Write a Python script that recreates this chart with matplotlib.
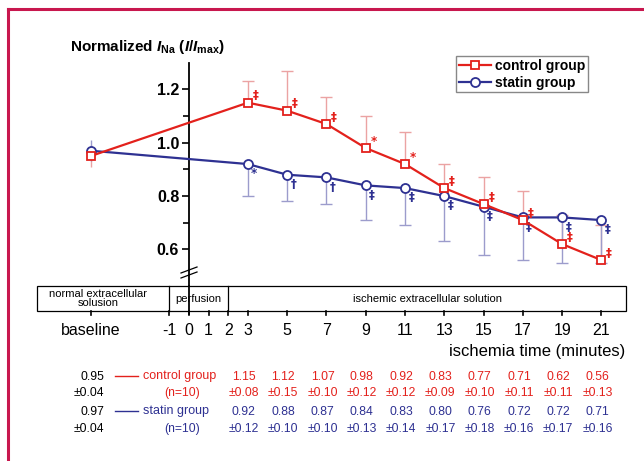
import matplotlib
matplotlib.use('Agg')
import matplotlib.pyplot as plt
from matplotlib import transforms
from matplotlib.lines import Line2D
from matplotlib.patches import Rectangle

plt.rcParams['font.family'] = ['Liberation Sans', 'DejaVu Sans']
plt.rcParams['mathtext.fontset'] = 'custom'
plt.rcParams['mathtext.rm'] = 'Liberation Sans:bold'
plt.rcParams['mathtext.it'] = 'Liberation Sans:italic:bold'
plt.rcParams['mathtext.bf'] = 'Liberation Sans:bold'

# ---------------- data ----------------
time_min = [-5, 3, 5, 7, 9, 11, 13, 15, 17, 19, 21]
control_mean = [0.95, 1.15, 1.12, 1.07, 0.98, 0.92, 0.83, 0.77, 0.71, 0.62, 0.56]
control_sd = [0.04, 0.08, 0.15, 0.10, 0.12, 0.12, 0.09, 0.10, 0.11, 0.11, 0.13]
statin_mean = [0.97, 0.92, 0.88, 0.87, 0.84, 0.83, 0.80, 0.76, 0.72, 0.72, 0.71]
statin_sd = [0.04, 0.12, 0.10, 0.10, 0.13, 0.14, 0.17, 0.18, 0.16, 0.17, 0.16]
control_sig = ['', '‡', '‡', '‡', '*', '*', '‡', '‡', '‡', '‡', '‡']
statin_sig = ['', '*', '†', '†', '‡', '‡', '‡', '‡', '‡', '‡', '‡']
xtick_pos = [-5, -1, 0, 1, 2, 3, 5, 7, 9, 11, 13, 15, 17, 19, 21]
xtick_labels = ['baseline', '-1', '0', '1', '2', '3', '5', '7', '9', '11',
                '13', '15', '17', '19', '21']
phase_names = ['normal extracellular\nsolusion', 'perfusion',
               'ischemic extracellular solution']
phase_edges = [-1, 2]
yticks_major = [0.6, 0.8, 1.0, 1.2]
yticks_minor = [0.7, 0.9, 1.1]
group_names = ['control group', 'statin group']
group_n = ['(n=10)', '(n=10)']

# ---------------- style ----------------
RED = '#e3211c'
BLUE = '#2e3192'
RED_LIGHT = '#eba3a3'
BLUE_LIGHT = '#9c9ccc'
BORDER = '#c8174e'

W, H = 644, 461
fig = plt.figure(figsize=(W / 100, H / 100), dpi=100)

def fx(px):
    return px / W

def fy(py):
    return 1 - py / H

XMIN, XMAX = -7.75, 22.25
YMIN, YMAX = 0.463, 1.2987
ax = fig.add_axes([fx(36.7), fy(286), fx(626) - fx(36.7), fy(63) - fy(286)])
ax.set_xlim(XMIN, XMAX)
ax.set_ylim(YMIN, YMAX)
for s in ['top', 'right', 'bottom']:
    ax.spines[s].set_visible(False)
ax.spines['left'].set_position(('data', 0))
ax.spines['left'].set_linewidth(1.3)
ax.set_xticks([])
ax.set_yticks(yticks_major)
ax.set_yticklabels([f'{v:.1f}' for v in yticks_major], fontsize=11.5, fontweight='bold')
ax.set_yticks(yticks_minor, minor=True)
ax.tick_params(axis='y', which='major', length=5, width=1.2, direction='out', pad=2)
ax.tick_params(axis='y', which='minor', length=4, width=1.2, direction='out')
ax.patch.set_alpha(0)

blend = transforms.blended_transform_factory(ax.transData, fig.transFigure)

def draw_err(xs, lo, hi, color):
    ax.vlines(xs, lo, hi, colors=color, lw=1.0, zorder=2)

# baseline error bars (both ways)
for mean, sd, col in [(control_mean[0], control_sd[0], RED_LIGHT),
                      (statin_mean[0], statin_sd[0], BLUE_LIGHT)]:
    draw_err([time_min[0]], [mean - sd], [mean + sd], col)

# ischemia error bars: control upward, statin downward
xs = time_min[1:]
c_top = [m + s for m, s in zip(control_mean[1:], control_sd[1:])]
s_bot = [m - s for m, s in zip(statin_mean[1:], statin_sd[1:])]
draw_err(xs, control_mean[1:], c_top, RED_LIGHT)
ax.plot(xs, c_top, ls='none', marker='_', ms=8, mew=1.0, color=RED_LIGHT, zorder=2)
draw_err(xs, s_bot, statin_mean[1:], BLUE_LIGHT)
ax.plot(xs, s_bot, ls='none', marker='_', ms=8, mew=1.0, color=BLUE_LIGHT, zorder=2)

# lines
ax.plot(time_min, control_mean, color=RED, lw=1.6, marker='s', ms=6,
        mfc='white', mec=RED, mew=1.3, zorder=4, clip_on=False)
ax.plot(time_min, statin_mean, color=BLUE, lw=1.6, marker='o', ms=6.5,
        mfc='white', mec=BLUE, mew=1.3, zorder=3, clip_on=False)

# significance marks
SIG_FONT = ['DejaVu Sans']
for x, m, t in zip(time_min, control_mean, control_sig):
    if t:
        ax.annotate(t, (x, m), xytext=(5.5, 5), textcoords='offset points',
                    ha='center', va='center', color=RED, fontsize=8.5,
                    family=SIG_FONT, fontweight='bold')
for x, m, t in zip(time_min, statin_mean, statin_sig):
    if t:
        ax.annotate(t, (x, m), xytext=(4.5, -7), textcoords='offset points',
                    ha='center', va='center', color=BLUE, fontsize=8.5,
                    family=SIG_FONT, fontweight='bold')

# y-axis continuation through the band
fig.add_artist(Line2D([0, 0], [fy(286), fy(314)], transform=blend,
                      color='black', lw=1.3))

# axis break marks
for dy in (-2.5, 2.5):
    fig.add_artist(Line2D([fx(181), fx(197)], [fy(275.5 + dy), fy(269.5 + dy)],
                          transform=fig.transFigure, color='black', lw=0.9))

# title
fig.text(fx(70), fy(47), r'Normalized $I_{\mathregular{Na}}$ ($I/I_{\mathregular{max}}$)',
         fontsize=11, fontweight='bold', ha='left', va='center')

# legend
handles = [Line2D([], [], color=RED, lw=1.6, marker='s', ms=6, mfc='white', mec=RED, mew=1.3),
           Line2D([], [], color=BLUE, lw=1.6, marker='o', ms=6.5, mfc='white', mec=BLUE, mew=1.3)]
leg = ax.legend(handles, group_names, loc='upper left',
                bbox_to_anchor=(fx(456), fy(56)), bbox_transform=fig.transFigure,
                borderaxespad=0, fancybox=False, framealpha=1, edgecolor='#888888',
                prop={'weight': 'bold', 'size': 10}, handlelength=2.3,
                handletextpad=0.3, borderpad=0.2, labelspacing=0.2)
leg.get_frame().set_linewidth(1.0)

# phase band
band_top, band_bot = 286, 311
fig.add_artist(Rectangle((XMIN, fy(band_bot)), XMAX - XMIN, fy(band_top) - fy(band_bot),
                         transform=blend, fill=False, edgecolor='black', lw=0.9))
for e in phase_edges:
    fig.add_artist(Line2D([e, e], [fy(band_top), fy(band_bot)], transform=blend,
                          color='black', lw=0.9))
bounds = [XMIN] + phase_edges + [XMAX]
phase_cx = [(bounds[i] + bounds[i + 1]) / 2 for i in range(3)]
phase_cx[0] -= 0.25
for cx, name in zip(phase_cx, phase_names):
    fig.text(cx, fy(298.5), name, transform=blend, ha='center', va='center',
             fontsize=8, linespacing=0.85)

# ticks under band and labels
for p, lab in zip(xtick_pos, xtick_labels):
    fig.add_artist(Line2D([p, p], [fy(band_bot), fy(band_bot + 3.5)], transform=blend,
                          color='black', lw=1.2))
    fig.text(p, fy(330), lab, transform=blend, ha='center', va='center', fontsize=11.5)

fig.text(fx(625), fy(351), 'ischemia time (minutes)', ha='right', va='center', fontsize=12)

# table of values
rows = [(control_mean, control_sd, RED, group_names[0], group_n[0], 377, 393),
        (statin_mean, statin_sd, BLUE, group_names[1], group_n[1], 412, 429)]
TFS = 8.7
for mean, sd, col, name, n, r1, r2 in rows:
    fig.text(fx(104), fy(r1), f'{mean[0]:.2f}', ha='right', va='center', fontsize=TFS)
    fig.text(fx(104), fy(r2), f'±{sd[0]:.2f}', ha='right', va='center', fontsize=TFS)
    fig.add_artist(Line2D([fx(115), fx(138)], [fy(r1 - 1), fy(r1 - 1)],
                          transform=fig.transFigure, color=col, lw=1.0))
    fig.text(fx(143), fy(r1 - 1), name, ha='left', va='center', fontsize=9, color=col)
    fig.text(fx(182), fy(r2), n, ha='center', va='center', fontsize=TFS, color=col)
    for x, m, s in zip(time_min[1:], mean[1:], sd[1:]):
        fig.text(x - 0.2, fy(r1), f'{m:.2f}', transform=blend, ha='center', va='center',
                 fontsize=TFS, color=col)
        fig.text(x - 0.2, fy(r2), f'±{s:.2f}', transform=blend, ha='center', va='center',
                 fontsize=TFS, color=col)

# crimson frame (top and left visible)
fig.add_artist(Line2D([fx(8), fx(W + 5)], [fy(9), fy(9)], transform=fig.transFigure,
                      color=BORDER, lw=2.2, solid_capstyle='projecting'))
fig.add_artist(Line2D([fx(8), fx(8)], [fy(9), fy(H + 5)], transform=fig.transFigure,
                      color=BORDER, lw=2.2, solid_capstyle='projecting'))

fig.savefig('out.png', dpi=100)
